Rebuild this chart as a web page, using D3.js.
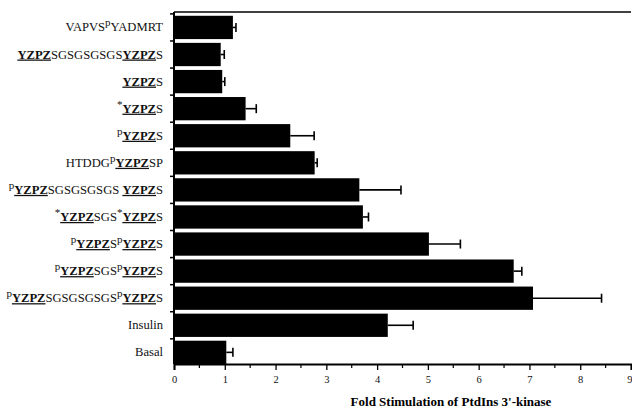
<!DOCTYPE html>
<html>
<head>
<meta charset="utf-8">
<script src="https://cdn.jsdelivr.net/npm/d3@7"></script>
<style>
  body { margin: 0; background: #fff; }
  svg { display: block; }
  .lbl { font-family: "Liberation Serif", "DejaVu Serif", serif; font-size: 12.6px; fill: #111; }
  .tick text { font-family: "Liberation Serif", serif; font-size: 10.5px; fill: #111; }
</style>
</head>
<body>
<svg width="632" height="412"></svg>
<script>
// labels: {x} = superscript, [x] = underlined
const categories = [
  "VAPVS{p}YADMRT",
  "[YZPZ]SGSGSGSGS[YZPZ]S",
  "[YZPZ]S",
  "{*}[YZPZ]S",
  "{p}[YZPZ]S",
  "HTDDG{p}[YZPZ]SP",
  "{p}[YZPZ]SGSGSGSGS [YZPZ]S",
  "{*}[YZPZ]SGS{*}[YZPZ]S",
  "{p}[YZPZ]S{p}[YZPZ]S",
  "{p}[YZPZ]SGS{p}[YZPZ]S",
  "{p}[YZPZ]SGSGSGSGS{p}[YZPZ]S",
  "Insulin",
  "Basal"
]
const foldValues = [1.16, 0.92, 0.95, 1.41, 2.29, 2.77, 3.65, 3.72, 5.02, 6.69, 7.07, 4.21, 1.03]
const foldErrors = [0.06, 0.07, 0.05, 0.21, 0.47, 0.05, 0.82, 0.11, 0.62, 0.16, 1.35, 0.50, 0.13]
const xTicks = [0, 1, 2, 3, 4, 5, 6, 7, 8, 9]
const xTitle = "Fold Stimulation of PtdIns 3'-kinase"

const svg = d3.select("svg")
const mLeft = 174, mRight = 631, mTop = 12, mBottom = 364

const x = d3.scaleLinear().domain([0, 9]).range([mLeft, mRight])
const y = d3.scaleBand().domain(categories).range([mTop, mBottom])
  .paddingInner(0.14).paddingOuter(0.07).align(1)

const rows = categories.map((c, i) => ({c, v: foldValues[i], e: foldErrors[i]}))

// bars
svg.append("g").selectAll("rect").data(rows).join("rect")
  .attr("x", x(0))
  .attr("y", d => y(d.c))
  .attr("width", d => x(d.v) - x(0))
  .attr("height", y.bandwidth())
  .attr("fill", "#000")

// error bars
const eb = svg.append("g").attr("stroke", "#000").attr("stroke-width", 1.6)
eb.selectAll("line.h").data(rows).join("line").attr("class", "h")
  .attr("x1", d => x(d.v)).attr("x2", d => x(d.v + d.e))
  .attr("y1", d => y(d.c) + y.bandwidth() / 2).attr("y2", d => y(d.c) + y.bandwidth() / 2)
eb.selectAll("line.c").data(rows).join("line").attr("class", "c")
  .attr("x1", d => x(d.v + d.e)).attr("x2", d => x(d.v + d.e))
  .attr("y1", d => y(d.c) + y.bandwidth() / 2 - 4.5).attr("y2", d => y(d.c) + y.bandwidth() / 2 + 4.5)

// x axis
const minor = d3.range(0.5, 9, 1)
const xg = svg.append("g").attr("transform", `translate(0,${mBottom})`)
xg.call(d3.axisBottom(x).tickValues(xTicks).tickSize(6).tickPadding(6).tickFormat(d3.format("d")))
xg.select(".domain").attr("stroke-width", 2)
xg.selectAll(".tick line").attr("stroke-width", 1.3)
// last label sits at the window edge; pull it in so it stays readable
xg.selectAll(".tick text").filter(d => d === 9).attr("text-anchor", "end").attr("dx", 1)
xg.selectAll("line.minor").data(minor).join("line").attr("class", "minor")
  .attr("x1", d => x(d)).attr("x2", d => x(d)).attr("y1", 0).attr("y2", 4)
  .attr("stroke", "#000").attr("stroke-width", 1.2)

// top border
svg.append("line").attr("x1", mLeft).attr("x2", mRight).attr("y1", mTop).attr("y2", mTop)
  .attr("stroke", "#000").attr("stroke-width", 1.5)

// left axis with ticks at band boundaries
svg.append("line").attr("x1", mLeft).attr("x2", mLeft).attr("y1", mTop).attr("y2", mBottom)
  .attr("stroke", "#000").attr("stroke-width", 2)
const gapY = categories.map(c => y(c) - y.step() * y.paddingInner() / 2)
svg.append("g").selectAll("line").data(gapY).join("line")
  .attr("x1", mLeft - 4).attr("x2", mLeft).attr("y1", d => d).attr("y2", d => d)
  .attr("stroke", "#000").attr("stroke-width", 1.5)

// category labels with superscripts and underlines
function parse(s) {
  const out = []
  const re = /\{([^}]*)\}|\[([^\]]*)\]|([^{\[]+)/g
  let m
  while ((m = re.exec(s))) {
    if (m[1] !== undefined) out.push({t: m[1], sup: true})
    else if (m[2] !== undefined) out.push({t: m[2], u: true})
    else out.push({t: m[3]})
  }
  return out
}
const lg = svg.append("g")
rows.forEach(d => {
  const cy = y(d.c) + y.bandwidth() / 2 + 4
  const t = lg.append("text").attr("class", "lbl").attr("x", 163).attr("y", cy)
    .attr("text-anchor", "end")
  let raised = false
  parse(d.c).forEach(p => {
    const ts = t.append("tspan").text(p.t)
    if (p.sup) { ts.attr("dy", -5).attr("font-size", 11); raised = true }
    else if (raised) { ts.attr("dy", 5); raised = false }
    if (p.u) ts.attr("text-decoration", "underline").attr("font-weight", "bold")
  })
})

// x title
svg.append("text").attr("x", 451).attr("y", 406).attr("text-anchor", "middle")
  .attr("font-family", "Liberation Serif, serif").attr("font-weight", "bold")
  .attr("font-size", 13).text(xTitle)
</script>
</body>
</html>
